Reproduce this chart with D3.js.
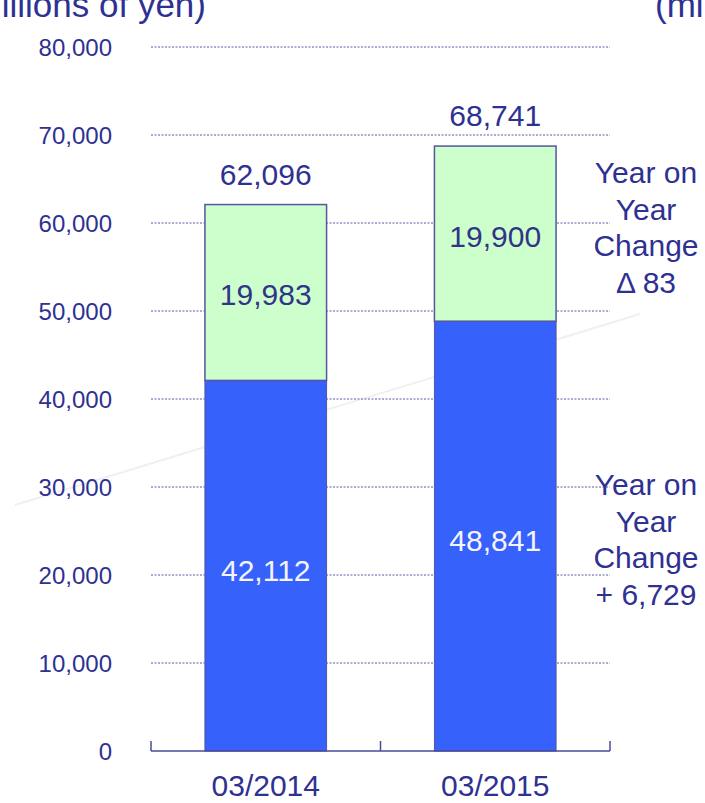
<!DOCTYPE html>
<html><head><meta charset="utf-8">
<script src="https://cdn.jsdelivr.net/npm/d3@7"></script>
<style>body{margin:0;background:#fff;overflow:hidden}text{font-family:"Liberation Sans",Arial,sans-serif}</style>
</head><body><svg id="c" width="705" height="803"></svg>
<script>
const categories = ["03/2014", "03/2015"];
const blueValues = [42112, 48841];
const greenValues = [19983, 19900];
const totals = [62096, 68741];
const yTicks = [0, 10000, 20000, 30000, 40000, 50000, 60000, 70000, 80000];
const notesGreen = ["Year on", "Year", "Change", "Δ 83"];
const notesBlue = ["Year on", "Year", "Change", "+ 6,729"];

const svg = d3.select("#c");
const txt = "#2e3192";
const x = d3.scaleBand().domain(categories).range([151, 610]).paddingInner(0.47).paddingOuter(0.235);
const y = d3.scaleLinear().domain([0, 80000]).range([751, 47]);
const fmt = d3.format(",");

// faint background stroke
svg.append("line").attr("x1", 15).attr("y1", 505).attr("x2", 640).attr("y2", 314)
  .attr("stroke", "#f0f0f3").attr("stroke-width", 2);

// grid
svg.append("g").selectAll("line").data(yTicks.filter(d => d > 0)).join("line")
  .attr("x1", 151).attr("x2", 610).attr("y1", d => y(d)).attr("y2", d => y(d))
  .attr("stroke", "#5a5aa8").attr("stroke-width", 1).attr("stroke-dasharray", "2,1.5");

// y labels
svg.append("g").selectAll("text").data(yTicks).join("text")
  .attr("x", 112).attr("y", d => y(d) + 8.5).attr("text-anchor", "end")
  .attr("font-size", 24).attr("fill", txt).text(d => fmt(d));

// bars
const g = svg.append("g");
categories.forEach((c, i) => {
  g.append("rect").attr("x", x(c)).attr("width", x.bandwidth())
    .attr("y", y(blueValues[i])).attr("height", y(0) - y(blueValues[i]))
    .attr("fill", "#3661fb").attr("stroke", "#5555a0").attr("stroke-width", 1);
  g.append("rect").attr("x", x(c)).attr("width", x.bandwidth())
    .attr("y", y(totals[i])).attr("height", y(blueValues[i]) - y(totals[i]))
    .attr("fill", "#ccffcc").attr("stroke", "#5555a0").attr("stroke-width", 1.5);
  const cx = x(c) + x.bandwidth() / 2;
  g.append("text").attr("x", cx).attr("y", y(totals[i]) - 20).attr("text-anchor", "middle")
    .attr("font-size", 30).attr("fill", txt).text(fmt(totals[i]));
  g.append("text").attr("x", cx).attr("y", (y(totals[i]) + y(blueValues[i])) / 2 + 13).attr("text-anchor", "middle")
    .attr("font-size", 30).attr("fill", "#333388").text(fmt(greenValues[i]));
  g.append("text").attr("x", cx).attr("y", (y(blueValues[i]) + y(0)) / 2 + 15).attr("text-anchor", "middle")
    .attr("font-size", 30).attr("fill", "#f4f4ff").text(fmt(blueValues[i]));
  g.append("text").attr("x", cx).attr("y", 796).attr("text-anchor", "middle")
    .attr("font-size", 30).attr("fill", txt).text(c);
});

// x axis
const ax = svg.append("g").attr("stroke", "#4a4a9a").attr("stroke-width", 1.5).attr("fill", "none");
ax.append("line").attr("x1", 151).attr("x2", 610).attr("y1", 751).attr("y2", 751);
[151, 380.5, 610].forEach(px => ax.append("line").attr("x1", px).attr("x2", px).attr("y1", 741).attr("y2", 751));

// unit titles
svg.append("text").attr("x", 206).attr("y", 17).attr("text-anchor", "end").attr("font-size", 35).attr("fill", txt).text("(millions of yen)");
svg.append("text").attr("x", 655).attr("y", 17).attr("font-size", 35).attr("fill", txt).text("(millions of yen)");

// notes
const drawNotes = (lines, y0) => svg.append("g").selectAll("text").data(lines).join("text")
  .attr("x", 646).attr("y", (d, i) => y0 + i * 36.6).attr("text-anchor", "middle")
  .attr("font-size", 30).attr("fill", txt).text(d => d);
drawNotes(notesGreen, 183);
drawNotes(notesBlue, 495);
</script></body></html>
